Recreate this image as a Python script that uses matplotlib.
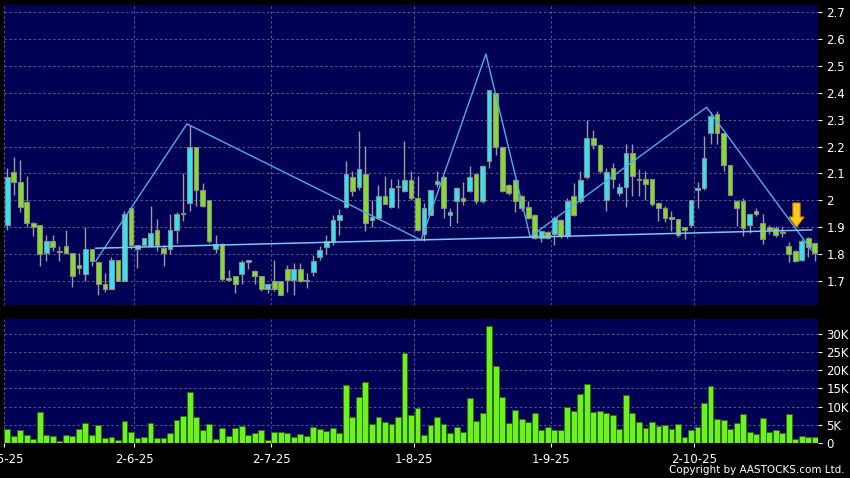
import matplotlib
matplotlib.use("Agg")
import matplotlib.pyplot as plt
from matplotlib.patches import Polygon
from matplotlib.ticker import FuncFormatter, FixedLocator
import numpy as np

# ---------------- data ----------------
opens = [1.907, 2.107, 2.07, 1.995, 1.917, 1.907, 1.806, 1.849, 1.81, 1.83,
         1.806, 1.76, 1.728, 1.818, 1.77, 1.689, 1.67, 1.778, 1.70, 1.97,
         1.818, 1.835, 1.832, 1.889, 1.821, 1.82, 1.891, 1.95, 1.99, 2.20,
         2.04, 2.0, 1.818, 1.837, 1.71, 1.72, 1.728, 1.77, 1.738, 1.72,
         1.67, 1.70, 1.70, 1.745, 1.705, 1.745, 1.705, 1.734, 1.788, 1.827,
         1.845, 1.928, 1.974, 2.086, 2.048, 2.098, 1.928, 1.934, 2.017, 1.976,
         2.05, 2.036, 2.077, 2.007, 1.875, 1.947, 2.059, 2.087, 1.947, 1.999,
         2.007, 2.036, 2.098, 1.999, 2.148, 2.40, 2.197, 2.058, 2.077, 2.017,
         1.977, 1.946, 1.859, 1.883, 1.874, 1.927, 1.869, 2.017, 1.998, 2.087,
         2.23, 2.207, 2.0, 2.119, 2.028, 2.049, 2.177, 2.078, 2.078, 2.078,
         1.989, 1.97, 1.938, 1.929, 1.90, 1.907, 2.037, 2.047, 2.249, 2.32,
         2.249, 2.131, 1.999, 1.999, 1.908, 1.96, 1.917, 1.90, 1.898, 1.88,
         1.83, 1.81, 1.78, 1.86, 1.84]
highs = [2.12, 2.16, 2.15, 2.09, 1.92, 1.91, 1.872, 1.87, 1.83, 1.89,
         1.806, 1.806, 1.90, 1.818, 1.77, 1.73, 1.79, 1.78, 1.96, 1.97,
         1.835, 1.86, 1.978, 1.93, 1.835, 1.95, 1.955, 2.10, 2.28, 2.20,
         2.065, 2.0, 1.87, 1.84, 1.74, 1.72, 1.78, 1.78, 1.74, 1.72,
         1.69, 1.78, 1.70, 1.76, 1.767, 1.767, 1.73, 1.796, 1.83, 1.872,
         1.947, 1.969, 2.148, 2.108, 2.259, 2.201, 2.0, 2.058, 2.09, 2.08,
         2.08, 2.22, 2.108, 2.09, 1.99, 2.04, 2.11, 2.09, 1.972, 2.05,
         2.07, 2.127, 2.10, 2.13, 2.41, 2.40, 2.20, 2.06, 2.08, 2.02,
         1.996, 1.95, 1.886, 1.885, 1.94, 1.93, 2.01, 2.064, 2.108, 2.30,
         2.263, 2.21, 2.12, 2.14, 2.065, 2.208, 2.208, 2.115, 2.11, 2.08,
         1.99, 1.98, 1.96, 1.93, 1.90, 2.0, 2.07, 2.239, 2.33, 2.332,
         2.25, 2.131, 2.0, 2.007, 1.95, 1.97, 1.948, 1.91, 1.904, 1.90,
         1.845, 1.815, 1.855, 1.865, 1.84]
lows = [1.89, 2.02, 1.955, 1.90, 1.868, 1.757, 1.775, 1.81, 1.775, 1.80,
        1.677, 1.726, 1.70, 1.757, 1.65, 1.66, 1.67, 1.70, 1.70, 1.818,
        1.747, 1.83, 1.825, 1.81, 1.757, 1.80, 1.84, 1.925, 1.96, 1.98,
        1.975, 1.84, 1.806, 1.70, 1.70, 1.657, 1.69, 1.745, 1.69, 1.664,
        1.657, 1.664, 1.65, 1.66, 1.647, 1.695, 1.674, 1.718, 1.78, 1.80,
        1.835, 1.872, 1.97, 2.015, 2.04, 1.885, 1.90, 1.93, 1.985, 1.97,
        1.97, 2.03, 2.0, 1.885, 1.848, 1.945, 2.05, 1.935, 1.904, 1.916,
        1.984, 2.03, 1.987, 1.99, 2.12, 2.17, 2.03, 2.02, 1.958, 1.96,
        1.93, 1.855, 1.846, 1.855, 1.834, 1.86, 1.86, 1.94, 1.99, 2.08,
        2.19, 2.10, 1.96, 2.047, 2.016, 1.975, 2.016, 2.016, 2.0, 1.98,
        1.925, 1.92, 1.885, 1.865, 1.858, 1.90, 1.97, 2.04, 2.208, 2.208,
        2.109, 2.018, 1.904, 1.867, 1.88, 1.94, 1.836, 1.875, 1.862, 1.862,
        1.77, 1.77, 1.775, 1.79, 1.775]
closes = [2.088, 2.069, 1.975, 1.917, 1.90, 1.80, 1.849, 1.827, 1.809, 1.806,
          1.717, 1.747, 1.818, 1.775, 1.69, 1.67, 1.778, 1.70, 1.948, 1.835,
          1.835, 1.859, 1.878, 1.835, 1.806, 1.89, 1.949, 1.948, 2.20, 2.04,
          1.98, 1.85, 1.837, 1.707, 1.705, 1.688, 1.771, 1.778, 1.718, 1.67,
          1.688, 1.67, 1.65, 1.705, 1.745, 1.699, 1.70, 1.776, 1.817, 1.848,
          1.928, 1.947, 2.098, 2.036, 2.117, 1.916, 1.937, 2.017, 1.987, 2.047,
          2.048, 2.077, 2.007, 1.888, 1.97, 2.037, 2.071, 1.97, 1.957, 2.046,
          1.999, 2.087, 1.999, 2.127, 2.409, 2.20, 2.035, 2.027, 1.998, 1.973,
          1.933, 1.859, 1.886, 1.859, 1.933, 1.869, 1.998, 1.946, 2.077, 2.23,
          2.207, 2.108, 2.106, 2.078, 2.049, 2.177, 2.09, 2.077, 2.06, 1.987,
          1.97, 1.935, 1.929, 1.871, 1.888, 2.0, 2.047, 2.158, 2.314, 2.249,
          2.131, 2.018, 1.97, 1.898, 1.948, 1.948, 1.858, 1.888, 1.871, 1.878,
          1.80, 1.775, 1.85, 1.825, 1.805]
volumes_k = [3.9, 1.8, 3.6, 2.3, 1.1, 8.6, 2.2, 2.0, 0.6, 2.1,
             1.8, 3.8, 5.5, 2.3, 4.8, 1.5, 1.7, 0.9, 6.0, 3.1,
             1.3, 1.7, 5.5, 1.5, 1.5, 2.7, 6.3, 7.5, 13.9, 7.0,
             3.5, 5.3, 1.1, 4.2, 1.8, 4.0, 4.7, 2.2, 2.7, 3.6,
             0.9, 2.9, 2.9, 2.8, 1.6, 2.4, 2.0, 4.5, 3.8, 3.4,
             4.2, 2.8, 15.8, 7.1, 12.5, 16.6, 5.2, 7.1, 5.8, 5.3,
             7.1, 24.6, 7.7, 9.5, 2.3, 4.9, 7.1, 5.3, 2.7, 4.4,
             3.1, 12.4, 6.1, 8.2, 32.2, 21.1, 12.5, 5.5, 9.0, 6.6,
             5.8, 8.2, 3.7, 4.5, 3.5, 3.7, 10.0, 8.9, 13.5, 16.3,
             8.5, 8.8, 8.2, 7.7, 3.9, 13.2, 8.1, 5.8, 4.2, 5.8,
             4.6, 4.9, 3.9, 5.2, 1.7, 3.7, 4.5, 11.0, 15.5, 6.6,
             6.2, 3.9, 5.5, 7.9, 2.9, 2.6, 6.8, 2.9, 3.5, 2.8,
             7.9, 1.2, 1.8, 1.6, 1.6]

month_labels = ["2-5-25", "2-6-25", "2-7-25", "1-8-25", "1-9-25", "2-10-25"]
month_pos = [-0.5, 19.5, 40.5, 62.5, 83.5, 105.5]

price_ticks = [1.7, 1.8, 1.9, 2.0, 2.1, 2.2, 2.3, 2.4, 2.5, 2.6, 2.7]
vol_ticks_k = [0, 5, 10, 15, 20, 25, 30]

# drawn pattern lines (index, price)
zigzag_x = [13.6, 27.6, 63.55, 73.5, 80.3, 107.4, 123.5]
zigzag_y = [1.774, 2.284, 1.852, 2.544, 1.864, 2.346, 1.815]
neck_x = [13.6, 123.5]
neck_y = [1.822, 1.890]

# ---------------- styling ----------------
BG = "#000000"
PANEL = "#000055"
GRID = "#5a5a8e"
CYAN = "#33e4ee"
GREEN = "#86dc2a"
WICK = "#9a9a9a"
EDGE = "#8a8a8a"
VOL = "#6cf21e"
VOL_EDGE = "#2f6a0a"
LINE = "#4eaee8"

W, H = 850, 478
fig = plt.figure(figsize=(W / 100, H / 100), dpi=100, facecolor=BG)

left, right = 4, 818
ax1 = fig.add_axes([left / W, (H - 305) / H, (right - left) / W, 300 / H])
ax2 = fig.add_axes([left / W, (H - 443) / H, (right - left) / W, 124 / H])

for ax in (ax1, ax2):
    ax.set_facecolor(PANEL)
    for s in ax.spines.values():
        s.set_visible(False)
    ax.set_xlim(-0.5, 124.5)
    ax.yaxis.tick_right()
    ax.tick_params(axis="y", colors="white", labelcolor="white", length=3,
                   width=0.8, pad=3, labelsize=8.5, direction="out")
    for xp in month_pos:
        ax.axvline(xp, color=GRID, lw=0.7, ls=(0, (2.5, 2.5)), zorder=0.5)

n = len(opens)
x = np.arange(n)
o = np.array(opens); c = np.array(closes)
hi = np.array(highs); lo = np.array(lows)
up = c > o

# price panel
ax1.set_ylim(1.611, 2.726)
ax1.yaxis.set_major_locator(FixedLocator(price_ticks))
ax1.yaxis.set_major_formatter(FuncFormatter(lambda v, p: f"{v:g}"))
for t in price_ticks:
    ax1.axhline(t, color=GRID, lw=0.7, ls=(0, (2.5, 2.5)), zorder=0.5)
ax1.set_xticks([])

ax1.vlines(x, lo, hi, color=WICK, lw=1.0, zorder=2)
body_bottom = np.minimum(o, c)
body_h = np.maximum(np.abs(c - o), 0.004)
colors = [CYAN if u else GREEN for u in up]
ax1.bar(x, body_h, bottom=body_bottom, width=0.72, color=colors,
        edgecolor=EDGE, linewidth=0.8, zorder=3)

ax1.plot(zigzag_x, zigzag_y, color=LINE, lw=1.0, zorder=4)
ax1.plot(neck_x, neck_y, color="#7cc6f2", lw=1.1, zorder=4)

# arrow marker
cx = 121.2
arrow = [(cx - 0.55, 1.99), (cx + 0.55, 1.99), (cx + 0.55, 1.938),
         (cx + 1.15, 1.938), (cx, 1.901), (cx - 1.15, 1.938),
         (cx - 0.55, 1.938)]
ax1.add_patch(Polygon(arrow, closed=True, facecolor="#ffc81e",
                      edgecolor="#e08c00", lw=0.8, zorder=5))

# volume panel
vols = np.array(volumes_k) * 1000
ax2.set_ylim(0, 34000)
ax2.yaxis.set_major_locator(FixedLocator([v * 1000 for v in vol_ticks_k]))
ax2.yaxis.set_major_formatter(FuncFormatter(
    lambda v, p: "0" if v == 0 else f"{v / 1000:g}K"))
for t in vol_ticks_k[1:]:
    ax2.axhline(t * 1000, color=GRID, lw=0.7, ls=(0, (2.5, 2.5)), zorder=0.5)
ax2.bar(x, vols, width=0.9, color=VOL, edgecolor=VOL_EDGE, linewidth=0.6,
        zorder=3)
ax2.set_xticks(month_pos)
ax2.set_xticklabels(month_labels)
ax2.tick_params(axis="x", colors="white", labelcolor="white", length=3,
                width=0.8, pad=4, labelsize=8.5, direction="out")

fig.text(845 / W, 3 / H, "Copyright by AASTOCKS.com Ltd.", color="white",
         fontsize=7.5, ha="right", va="bottom")

fig.savefig("out.png", dpi=100, facecolor=BG)
